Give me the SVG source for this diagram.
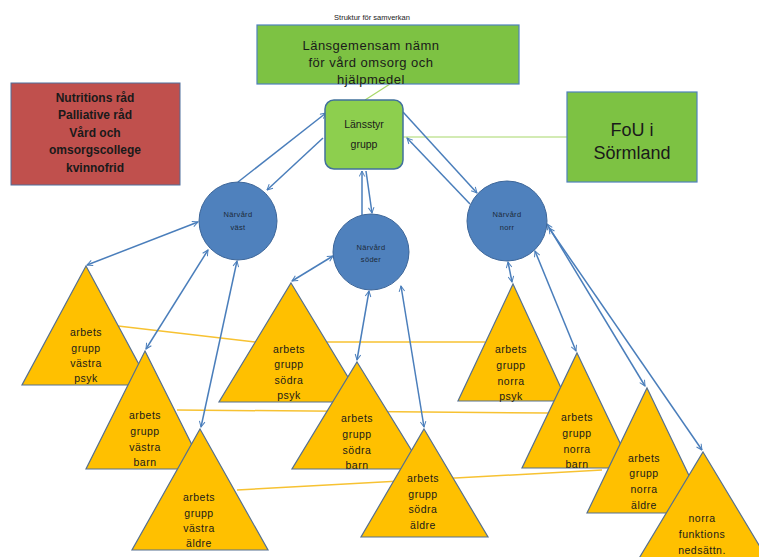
<svg xmlns="http://www.w3.org/2000/svg" width="759" height="557" viewBox="0 0 759 557">
<defs>
<marker id="ah" viewBox="0 0 10 10" refX="9" refY="5" markerWidth="7" markerHeight="7" orient="auto-start-reverse" markerUnits="userSpaceOnUse">
<path d="M1,1 L9,5 L1,9" fill="none" stroke="#4A7EBB" stroke-width="1.4"/>
</marker>
<style>
.t{font-family:"Liberation Sans",Arial,sans-serif;fill:#1a1a1a;text-anchor:middle}
.tri{fill:#FFC000;stroke:#56708F;stroke-width:1.2}
.circ{fill:#4F81BD;stroke:#3D6699;stroke-width:1}
.blue{stroke:#4A7EBB;stroke-width:1.5;fill:none}
.both{marker-start:url(#ah);marker-end:url(#ah)}
.end{marker-end:url(#ah)}
.org{stroke:#F7C232;stroke-width:1.5;fill:none}
.grn{stroke:#A8D86A;stroke-width:1.2;fill:none}
.tt{font-size:10.5px;letter-spacing:0.5px}
.ct{font-size:7.5px;fill:#1c2a3a;letter-spacing:0.3px}
</style>
</defs>
<rect width="759" height="557" fill="#ffffff"/>
<g id="connectors">
<line class="grn" x1="365" y1="100" x2="390" y2="84"/>
<line class="grn" x1="403" y1="137" x2="567" y2="137"/>
<polyline class="org" points="118,326 255,342 485,342"/>
<line class="org" x1="177" y1="410" x2="548" y2="413"/>
<line class="org" x1="237" y1="490" x2="602" y2="470"/>
<line class="blue end" x1="238" y1="182" x2="326" y2="113"/>
<line class="blue end" x1="323" y1="138" x2="267" y2="190"/>
<line class="blue end" x1="362" y1="215" x2="362" y2="171"/>
<line class="blue end" x1="366" y1="171" x2="372" y2="213"/>
<line class="blue end" x1="403" y1="112" x2="477" y2="193"/>
<line class="blue end" x1="470" y1="204" x2="407" y2="138"/>
<line class="blue both" x1="198" y1="222" x2="87" y2="265"/>
<line class="blue both" x1="208" y1="250" x2="146" y2="349"/>
<line class="blue both" x1="237" y1="261" x2="201" y2="427"/>
<line class="blue both" x1="333" y1="256" x2="292" y2="281"/>
<line class="blue both" x1="369" y1="291" x2="357" y2="360"/>
<line class="blue both" x1="401" y1="286" x2="424" y2="427"/>
<line class="blue both" x1="508" y1="262" x2="512" y2="282"/>
<line class="blue both" x1="535" y1="251" x2="576" y2="351"/>
<line class="blue both" x1="547" y1="224" x2="645" y2="386"/>
<line class="blue both" x1="549" y1="228" x2="702" y2="450"/>
</g>
<g id="title">
<text class="t" x="372" y="20" font-size="7.5">Struktur för samverkan</text>
</g>
<g id="namnd">
<rect x="257" y="25" width="262" height="59" fill="#7DC243" stroke="#4F81BD" stroke-width="1.2"/>
<text class="t" x="371" y="50" font-size="13" letter-spacing="0.5">Länsgemensam  nämn</text>
<text class="t" x="371" y="67" font-size="13" letter-spacing="0.5">för vård omsorg och</text>
<text class="t" x="371" y="84" font-size="13" letter-spacing="0.5">hjälpmedel</text>
</g>
<g id="rad">
<rect x="11" y="83" width="169" height="102" fill="#C0504D" stroke="#4F6E9C" stroke-width="1"/>
<text class="t" x="95" y="102" font-size="12" font-weight="bold">Nutritions råd</text>
<text class="t" x="95" y="119" font-size="12" font-weight="bold">Palliative  råd</text>
<text class="t" x="95" y="137" font-size="12" font-weight="bold">Vård och</text>
<text class="t" x="95" y="154" font-size="12" font-weight="bold">omsorgscollege</text>
<text class="t" x="95" y="172" font-size="12" font-weight="bold">kvinnofrid</text>
</g>
<g id="lansstyr">
<rect x="325" y="100" width="78" height="69" rx="9" fill="#8DCF4E" stroke="#41719C" stroke-width="1.5"/>
<text class="t" x="364" y="128" font-size="10.5">Länsstyr</text>
<text class="t" x="364" y="148" font-size="10.5">grupp</text>
</g>
<g id="fou">
<rect x="567" y="92" width="130" height="90" fill="#7DC243" stroke="#4F81BD" stroke-width="1.2"/>
<text class="t" x="632" y="136" font-size="18">FoU i</text>
<text class="t" x="632" y="159" font-size="18">Sörmland</text>
</g>
<g id="narvard-vast">
<circle class="circ" cx="238" cy="221" r="39"/>
<text class="t ct" x="238" y="217">Närvård</text>
<text class="t ct" x="238" y="230">väst</text>
</g>
<g id="narvard-soder">
<circle class="circ" cx="371" cy="252" r="38"/>
<text class="t ct" x="371" y="250">Närvård</text>
<text class="t ct" x="371" y="262">söder</text>
</g>
<g id="narvard-norr">
<circle class="circ" cx="507" cy="221" r="40"/>
<text class="t ct" x="507" y="217">Närvård</text>
<text class="t ct" x="507" y="230">norr</text>
</g>
<g id="vastra-psyk">
<polygon class="tri" points="86,266 150,385 22,385"/>
<text class="t tt" x="86" y="336">arbets</text>
<text class="t tt" x="86" y="352">grupp</text>
<text class="t tt" x="86" y="367">västra</text>
<text class="t tt" x="86" y="382">psyk</text>
</g>
<g id="vastra-barn">
<polygon class="tri" points="145,351 204,469 86,469"/>
<text class="t tt" x="145" y="419">arbets</text>
<text class="t tt" x="145" y="435">grupp</text>
<text class="t tt" x="145" y="451">västra</text>
<text class="t tt" x="145" y="466">barn</text>
</g>
<g id="vastra-aldre">
<polygon class="tri" points="200,429 268,550 132,550"/>
<text class="t tt" x="199" y="501">arbets</text>
<text class="t tt" x="199" y="517">grupp</text>
<text class="t tt" x="199" y="532">västra</text>
<text class="t tt" x="199" y="547">äldre</text>
</g>
<g id="sodra-psyk">
<polygon class="tri" points="291,283 363,402 219,402"/>
<text class="t tt" x="289" y="353">arbets</text>
<text class="t tt" x="289" y="368">grupp</text>
<text class="t tt" x="289" y="384">södra</text>
<text class="t tt" x="289" y="399">psyk</text>
</g>
<g id="sodra-barn">
<polygon class="tri" points="357,362 423,469 292,469"/>
<text class="t tt" x="357" y="422">arbets</text>
<text class="t tt" x="357" y="438">grupp</text>
<text class="t tt" x="357" y="454">södra</text>
<text class="t tt" x="357" y="469">barn</text>
</g>
<g id="sodra-aldre">
<polygon class="tri" points="424,429 488,537 361,537"/>
<text class="t tt" x="423" y="482">arbets</text>
<text class="t tt" x="423" y="498">grupp</text>
<text class="t tt" x="423" y="513">södra</text>
<text class="t tt" x="423" y="529">äldre</text>
</g>
<g id="norra-psyk">
<polygon class="tri" points="513,284 567,401 458,401"/>
<text class="t tt" x="511" y="353">arbets</text>
<text class="t tt" x="511" y="369">grupp</text>
<text class="t tt" x="511" y="385">norra</text>
<text class="t tt" x="511" y="400">psyk</text>
</g>
<g id="norra-barn">
<polygon class="tri" points="577,353 632,468 522,468"/>
<text class="t tt" x="577" y="421">arbets</text>
<text class="t tt" x="577" y="437">grupp</text>
<text class="t tt" x="577" y="453">norra</text>
<text class="t tt" x="577" y="468">barn</text>
</g>
<g id="norra-aldre">
<polygon class="tri" points="647,388 707,513 587,513"/>
<text class="t tt" x="644" y="462">arbets</text>
<text class="t tt" x="644" y="477">grupp</text>
<text class="t tt" x="644" y="493">norra</text>
<text class="t tt" x="644" y="509">äldre</text>
</g>
<g id="norra-funktion">
<polygon class="tri" points="703,452 777,575 629,575"/>
<text class="t tt" x="702" y="522">norra</text>
<text class="t tt" x="702" y="538">funktions</text>
<text class="t tt" x="702" y="554">nedsättn.</text>
</g>
</svg>
